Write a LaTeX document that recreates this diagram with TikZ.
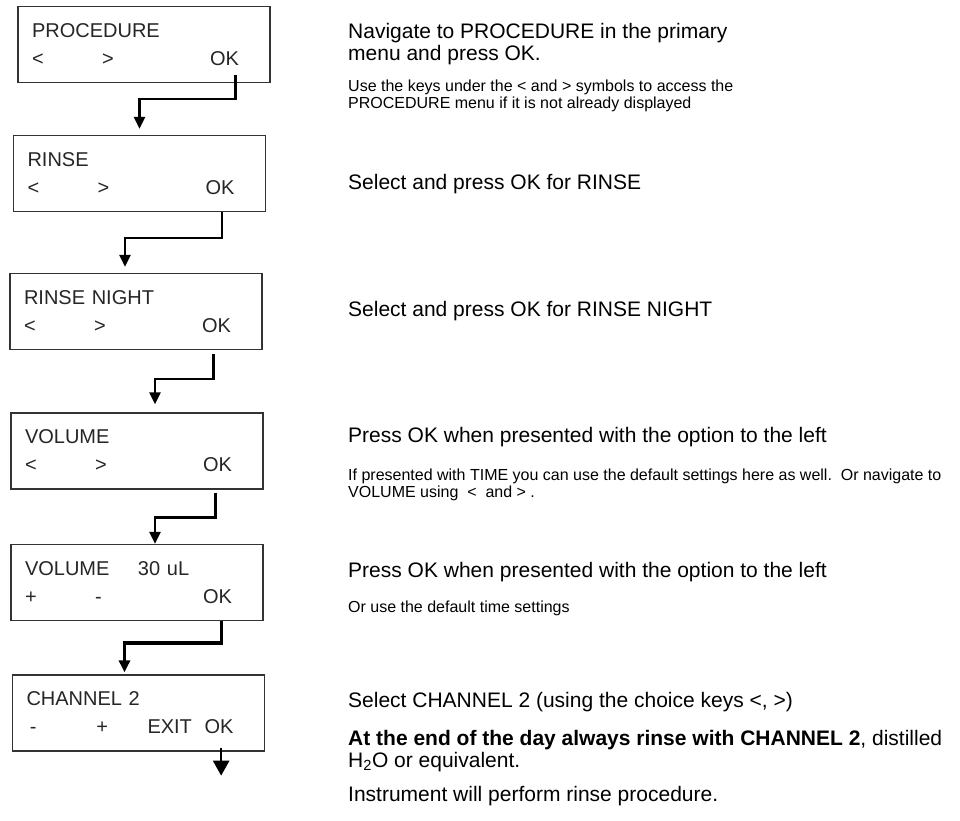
\documentclass[tikz,border=0pt]{standalone}
\usepackage{fontspec}
\setmainfont{Liberation Sans}
\usetikzlibrary{arrows.meta, positioning}

\newcommand{\keyrow}[3]{\makebox[70pt][l]{#1}\makebox[108pt][l]{#2}#3}

\begin{document}
\begin{tikzpicture}[
  x=1pt, y=1pt,
  lcd/.style={draw=black!80, line width=1.3pt, fill=white, minimum width=252pt, minimum height=76pt, inner xsep=14pt, inner ysep=0pt, text width=224pt, align=left, text=black!85, font=\fontsize{20}{28}\selectfont},
  note/.style={anchor=north west, inner sep=0pt, align=left, font=\fontsize{21}{22}\selectfont},
  hint/.style={anchor=north west, inner sep=0pt, align=left, font=\fontsize{16}{16.5}\selectfont},
  flow/.style={-{Triangle[width=11pt,length=12pt]}, line width=2.5pt}
]
\useasboundingbox (0,0) rectangle (960,-820);

% Display boxes
\node[lcd] (procedure) at (144,-44.5) {PROCEDURE\\\keyrow{<}{>}{OK}};
\node[lcd] (rinse) at (139.5,-173.5) {RINSE\\\keyrow{<}{>}{OK}};
\node[lcd] (night) at (136,-311.5) {RINSE NIGHT\\\keyrow{<}{>}{OK}};
\node[lcd] (volume) at (137,-451) {VOLUME\\\keyrow{<}{>}{OK}};
\node[lcd] (amount) at (137,-582.5) {\makebox[113pt][l]{VOLUME}30 uL\\\keyrow{+}{-}{OK}};
\node[lcd] (channel) at (138.5,-713) {CHANNEL 2\\\makebox[70pt][l]{\,-}\makebox[51pt][l]{+}\makebox[57pt][l]{EXIT}OK};
\coordinate (done) at ([xshift=-44pt,yshift=-24pt]channel.south east);

% Instructions
\node[note] (navigate) at (348,-23) {Navigate to PROCEDURE in the primary\\menu and press OK.};
\node[hint] (keys) at (348,-80) {Use the keys under the < and > symbols to access the\\PROCEDURE menu if it is not already displayed};
\node[note] (selrinse) at (348,-174) {Select and press OK for RINSE};
\node[note] (selnight) at (348,-301) {Select and press OK for RINSE NIGHT};
\node[note] (pressvol) at (348,-427) {Press OK when presented with the option to the left};
\node[hint] (timehint) at (348,-469) {If presented with TIME you can use the default settings here as well.\ \ Or navigate to\\VOLUME using \ < \ and > .};
\node[note] (pressamt) at (348,-562) {Press OK when presented with the option to the left};
\node[hint] (default) at (348,-601) {Or use the default time settings};
\node[note] (selchan) at (348,-692) {Select CHANNEL 2 (using the choice keys <, >)};
\node[note] (endday) at (348,-730) {\textbf{At the end of the day always rinse with CHANNEL 2}, distilled\\H\textsubscript{2}O or equivalent.};
\node[note] (perform) at (348,-786) {Instrument will perform rinse procedure.};

% Arrows
\draw[flow] ([xshift=-35pt,yshift=8pt]procedure.south east) -- ++(0,-24) -| ([yshift=6pt]rinse.north);
\draw[flow] ([xshift=-44pt]rinse.south east) -- ++(0,-26) -| ([xshift=-11pt,yshift=6pt]night.north);
\draw[flow] ([xshift=-49pt,yshift=-4pt]night.south east) -- ++(0,-25) -| ([xshift=18pt,yshift=8pt]volume.north);
\draw[flow] ([xshift=-48pt,yshift=-3pt]volume.south east) -- ++(0,-25) -| ([xshift=18pt]amount.north);
\draw[flow, line width=3.5pt] ([xshift=-42pt]amount.south east) -- ++(0,-22) -| ([xshift=-14pt,yshift=2pt]channel.north);
\draw[-{Triangle[width=16pt,length=15pt]}, line width=2.5pt] ([xshift=-44pt,yshift=4pt]channel.south east) -- (done);

\end{tikzpicture}
\end{document}
